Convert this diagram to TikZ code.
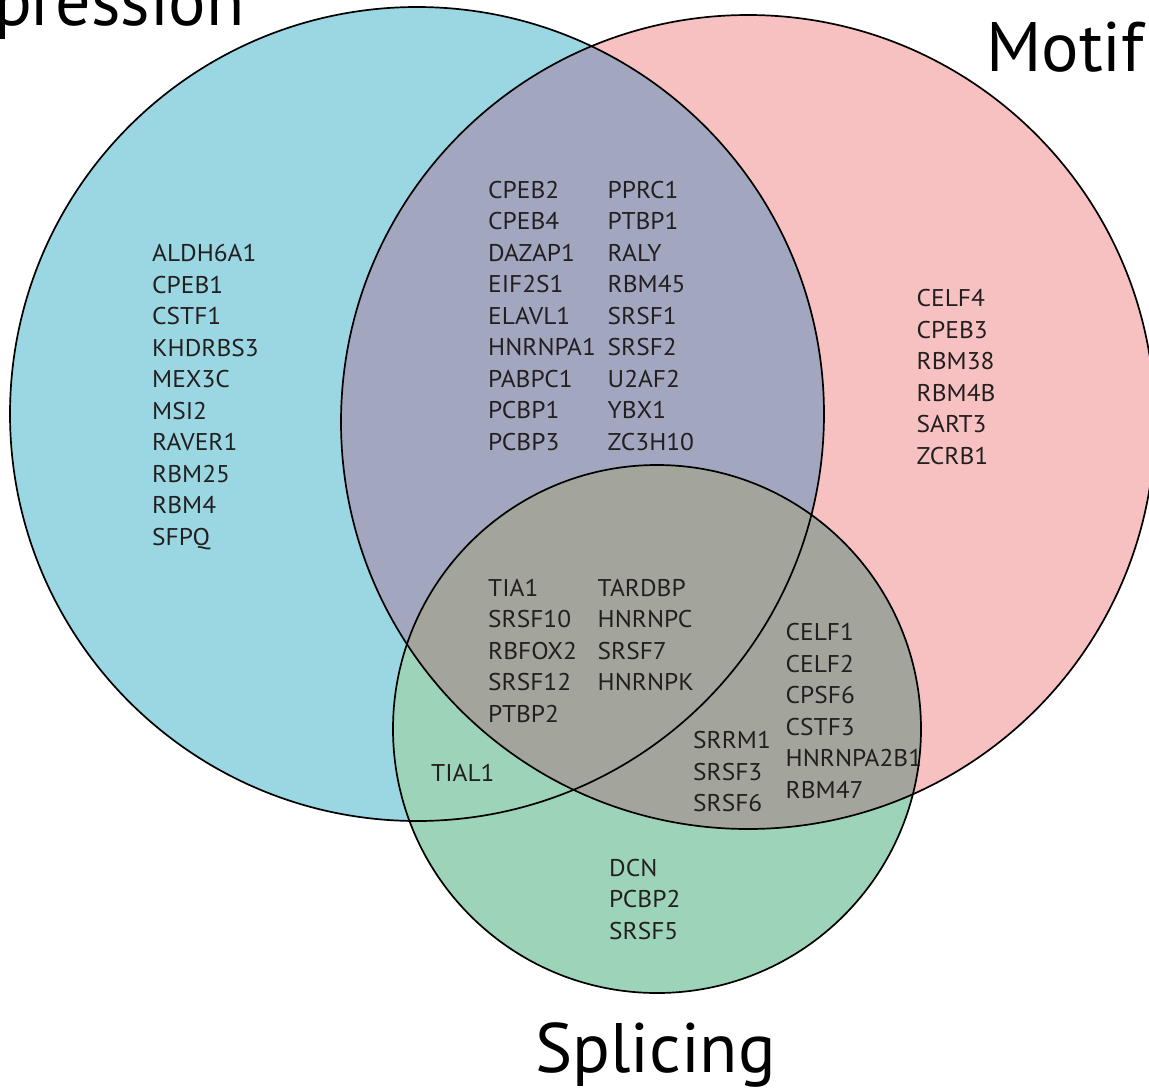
\documentclass[tikz,border=0pt]{standalone}
\usepackage{fontspec}
\setmainfont{PT Sans}
\newfontfamily\genefont[FakeStretch=1.05]{PT Sans}
\definecolor{cblue}{HTML}{9AD7E2}
\definecolor{cpink}{HTML}{F7C0C1}
\definecolor{cbp}{HTML}{A2A6BF}
\definecolor{cgreen}{HTML}{9DD4B9}
\definecolor{cgray}{HTML}{A3A59C}
\definecolor{ctxt}{HTML}{231F20}
\tikzset{
  gene/.style={anchor=base west, inner sep=0pt, text=ctxt, font=\genefont\fontsize{24.2}{28}\selectfont},
  title/.style={inner sep=0pt, text=black, font=\fontsize{70}{80}\selectfont},
  ring/.style={draw=black, line width=1.7pt}
}
\begin{document}
\begin{tikzpicture}[x=1pt,y=-1pt]
\useasboundingbox (0,0) rectangle (1149,1088);
\coordinate (ce) at (417,414);
\coordinate (cm) at (748,422);
\coordinate (cs) at (657,729);
% fills
\fill[cblue] (ce) circle[radius=407pt];
\fill[cpink] (cm) circle[radius=407pt];
\begin{scope}
  \clip (ce) circle[radius=407pt];
  \fill[cbp] (cm) circle[radius=407pt];
\end{scope}
\fill[cgreen] (cs) circle[radius=264pt];
\begin{scope}
  \clip (cm) circle[radius=407pt];
  \fill[cgray] (cs) circle[radius=264pt];
\end{scope}
% outlines
\draw[ring] (ce) circle[radius=407pt];
\draw[ring] (cm) circle[radius=407pt];
\draw[ring] (cs) circle[radius=264pt];
% titles
\node[title, anchor=base east] (texp) at (245,25) {Expression};
\node[title, anchor=base west] (tmot) at (986,71) {Motif};
\node[title, anchor=base] (tspl) at (655.5,1072) {Splicing};
% expression only
\foreach \g [count=\i from 0] in {ALDH6A1,CPEB1,CSTF1,KHDRBS3,MEX3C,MSI2,RAVER1,RBM25,RBM4,SFPQ}
  \node[gene] (e\i) at (152,261.7+31.5*\i) {\g};
% expression & motif
\foreach \g [count=\i from 0] in {CPEB2,CPEB4,DAZAP1,EIF2S1,ELAVL1,HNRNPA1,PABPC1,PCBP1,PCBP3}
  \node[gene] (em\i) at (488,198.3+31.5*\i) {\g};
\foreach \g [count=\i from 0] in {PPRC1,PTBP1,RALY,RBM45,SRSF1,SRSF2,U2AF2,YBX1,ZC3H10}
  \node[gene] (emr\i) at (607.5,198.3+31.5*\i) {\g};
% motif only
\foreach \g [count=\i from 0] in {CELF4,CPEB3,RBM38,RBM4B,SART3,ZCRB1}
  \node[gene] (m\i) at (916.5,306.7+31.5*\i) {\g};
% all three
\foreach \g [count=\i from 0] in {TIA1,SRSF10,RBFOX2,SRSF12,PTBP2}
  \node[gene] (a\i) at (488,596+31.5*\i) {\g};
\foreach \g [count=\i from 0] in {TARDBP,HNRNPC,SRSF7,HNRNPK}
  \node[gene] (ar\i) at (597.5,596+31.5*\i) {\g};
% motif & splicing
\foreach \g [count=\i from 0] in {CELF1,CELF2,CPSF6,CSTF3,HNRNPA2B1,RBM47}
  \node[gene] (ms\i) at (785.5,640.5+31.5*\i) {\g};
\foreach \g [count=\i from 0] in {SRRM1,SRSF3,SRSF6}
  \node[gene] (msl\i) at (693,748.7+31.5*\i) {\g};
% expression & splicing
\node[gene] (es0) at (431,781.7) {TIAL1};
% splicing only
\foreach \g [count=\i from 0] in {DCN,PCBP2,SRSF5}
  \node[gene] (s\i) at (609,876+31.5*\i) {\g};
\end{tikzpicture}
\end{document}
